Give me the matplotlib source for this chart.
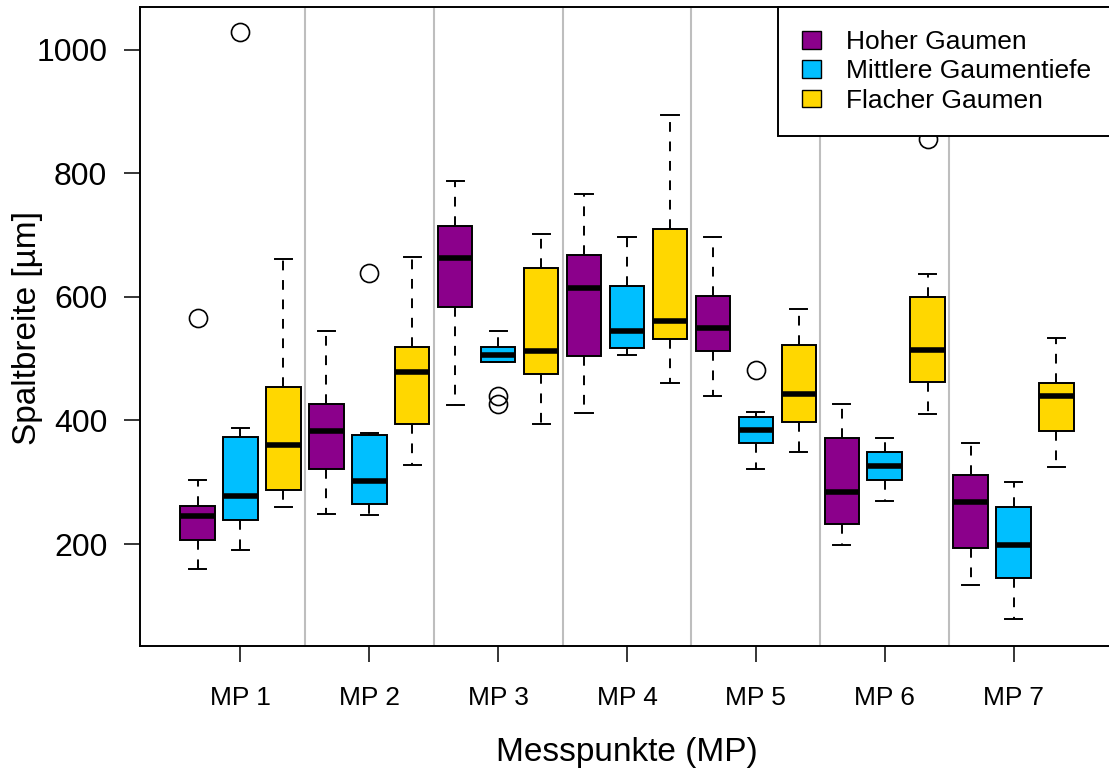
import matplotlib
matplotlib.use('Agg')
import matplotlib.pyplot as plt
from matplotlib.patches import Patch

plt.rcParams['font.family'] = ['Liberation Sans', 'DejaVu Sans']
plt.rcParams['lines.scale_dashes'] = False

# Messpunkte und Gruppen
mp_labels = ['MP 1', 'MP 2', 'MP 3', 'MP 4', 'MP 5', 'MP 6', 'MP 7']
gruppen = ['Hoher Gaumen', 'Mittlere Gaumentiefe', 'Flacher Gaumen']
farben = ['#8B008B', '#00BFFF', '#FFD700']

# Hoher Gaumen
hoch_lo = [159, 248, 425, 412, 439, 199, 133]
hoch_q1 = [206, 322, 584, 504, 513, 233, 194]
hoch_med = [245, 383, 663, 614, 549, 285, 268]
hoch_q3 = [261, 427, 714, 668, 602, 372, 311]
hoch_hi = [303, 545, 788, 766, 697, 427, 364]
hoch_out = [[565], [], [], [], [], [], []]

# Mittlere Gaumentiefe
mitt_lo = [191, 247, 494, 506, 322, 270, 78]
mitt_q1 = [239, 264, 495, 518, 363, 303, 145]
mitt_med = [277, 302, 506, 545, 385, 326, 198]
mitt_q3 = [373, 376, 519, 618, 406, 349, 260]
mitt_hi = [388, 380, 545, 697, 413, 371, 301]
mitt_out = [[1029], [638], [440, 427], [], [482], [], []]

# Flacher Gaumen
flach_lo = [260, 328, 395, 460, 349, 411, 325]
flach_q1 = [288, 395, 475, 531, 397, 463, 383]
flach_med = [361, 478, 512, 561, 443, 514, 439]
flach_q3 = [454, 519, 647, 710, 522, 599, 461]
flach_hi = [661, 665, 702, 895, 581, 637, 533]
flach_out = [[], [], [], [], [], [856], []]

serien = [
    (hoch_lo, hoch_q1, hoch_med, hoch_q3, hoch_hi, hoch_out),
    (mitt_lo, mitt_q1, mitt_med, mitt_q3, mitt_hi, mitt_out),
    (flach_lo, flach_q1, flach_med, flach_q3, flach_hi, flach_out),
]

fig = plt.figure(figsize=(11.09, 7.74), dpi=100)
ax = fig.add_axes([140 / 1109, 128 / 774, 974 / 1109, 639 / 774])

stats, positions, cols = [], [], []
for i in range(len(mp_labels)):
    for j, (lo, q1, med, q3, hi, out) in enumerate(serien):
        stats.append(dict(whislo=lo[i], q1=q1[i], med=med[i], q3=q3[i],
                          whishi=hi[i], fliers=out[i]))
        positions.append(3 * i + j + 1)
        cols.append(farben[j])

# gray separators between the measuring points
for i in range(1, len(mp_labels)):
    ax.axvline(3 * i + 0.5, color='#BEBEBE', lw=1.5, zorder=0)

bp = ax.bxp(stats, positions=positions, widths=0.8, capwidths=0.4,
            patch_artist=True, showfliers=True,
            boxprops=dict(edgecolor='black', linewidth=1.4),
            whiskerprops=dict(color='black', linewidth=1.4, linestyle=(0, (7, 7))),
            capprops=dict(color='black', linewidth=1.4),
            medianprops=dict(color='black', linewidth=4, solid_capstyle='butt'),
            flierprops=dict(marker='o', markerfacecolor='none', markeredgecolor='black',
                            markersize=13, markeredgewidth=1.2))
for box, c in zip(bp['boxes'], cols):
    box.set_facecolor(c)
    box.set_zorder(2)

ax.set_xlim(-0.34, 22.34)
ax.set_ylim(35, 1069)
ax.set_xticks([3 * i + 2 for i in range(len(mp_labels))])
ax.set_xticklabels(mp_labels, fontsize=19)
ax.set_yticks([200, 400, 600, 800, 1000])
ax.tick_params(axis='y', labelsize=23, length=11.5, width=1.1, pad=12)
ax.tick_params(axis='x', length=11.5, width=1.1, pad=17)
for s in ax.spines.values():
    s.set_linewidth(1.4)

ax.set_xlabel('Messpunkte (MP)', fontsize=24)
ax.xaxis.set_label_coords(0.5, -(752 - 646) / 639, transform=ax.transAxes)
ax.set_ylabel('Spaltbreite [µm]', fontsize=24, va='center')
ax.yaxis.set_label_coords(-(140 - 28) / 974, (646 - 328) / 639, transform=ax.transAxes)
ax.xaxis.label.set_va('center')

handles = [Patch(facecolor=c, edgecolor='black', linewidth=1.0) for c in farben]
leg = ax.legend(handles, gruppen, loc='upper right', bbox_to_anchor=(1, 1),
                borderaxespad=0, fontsize=19, fancybox=False, framealpha=1,
                edgecolor='black', handlelength=0.72, handleheight=0.65,
                handletextpad=0.95, labelspacing=0.2, borderpad=0.88)
leg.get_frame().set_linewidth(1.4)
leg.set_zorder(5)

fig.savefig('out.png', dpi=100)
